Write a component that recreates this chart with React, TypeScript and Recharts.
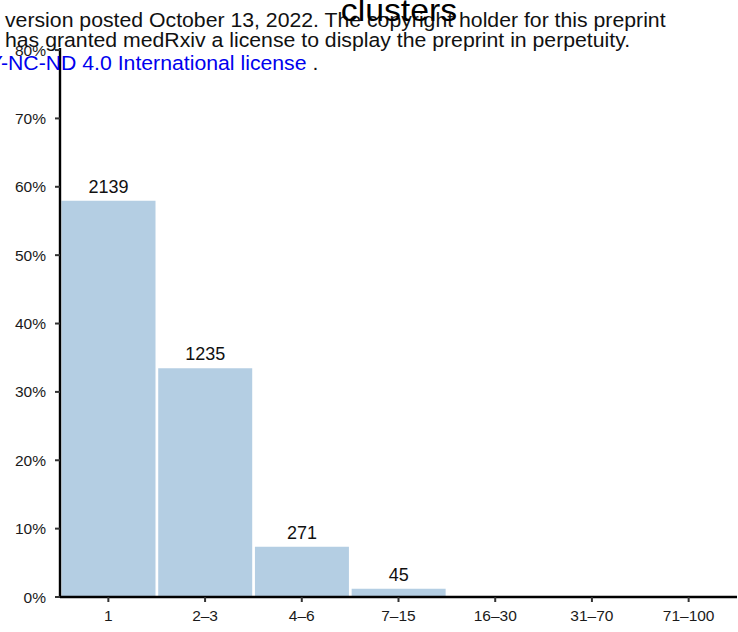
import React from "react";
import { BarChart, Bar, XAxis, YAxis, LabelList } from "recharts";

// cluster size bins and number of clusters in each
const clusterSizes = ["1", "2–3", "4–6", "7–15", "16–30", "31–70", "71–100"];
const clusterCounts = [2139, 1235, 271, 45, 0, 0, 0];
const yTicks = [0, 10, 20, 30, 40, 50, 60, 70, 80];

const total = clusterCounts.reduce((a, b) => a + b, 0);
const data = clusterSizes.map((size, i) => ({
  size,
  count: clusterCounts[i],
  share: (clusterCounts[i] / total) * 100,
}));

const font = "'Liberation Sans', Arial, Helvetica, sans-serif";
// the source figure is stretched a little horizontally
const sx = 1.09;

export default function App() {
  return (
    <div
      style={{
        position: "absolute",
        left: 0,
        top: 0,
        width: 738,
        height: 632,
        overflow: "hidden",
        background: "#fff",
        fontFamily: font,
      }}
    >
      <BarChart
        width={738}
        height={632}
        data={data}
        margin={{ top: 48, right: 1, bottom: 0, left: 0 }}
        barCategoryGap={1.5}
      >
        <XAxis
          dataKey="size"
          height={35}
          interval={0}
          axisLine={{ stroke: "#000", strokeWidth: 2.4 }}
          tickLine={{ stroke: "#333", strokeWidth: 2 }}
          tickSize={5}
          tickMargin={8}
          tick={{ fill: "#1a1a1a", fontSize: 15.5, fontFamily: font }}
        />
        <YAxis
          type="number"
          domain={[0, 80.3]}
          ticks={yTicks}
          tickFormatter={(v: number) => `${v}%`}
          width={60}
          axisLine={{ stroke: "#000", strokeWidth: 2.4 }}
          tickLine={{ stroke: "#333", strokeWidth: 2 }}
          tickSize={5}
          tickMargin={9}
          tick={{ fill: "#1a1a1a", fontSize: 15.5, fontFamily: font }}
        />
        <Bar dataKey="share" fill="#b4cee3" isAnimationActive={false}>
          <LabelList
            dataKey="count"
            position="top"
            offset={8}
            formatter={(v: number) => (v ? v : "")}
            style={{ fill: "#111", fontSize: 18, fontFamily: font }}
          />
        </Bar>
      </BarChart>
      <svg
        width={738}
        height={632}
        style={{ position: "absolute", left: 0, top: 0, pointerEvents: "none" }}
        fontFamily={font}
      >
        <g transform={`scale(${sx},1)`}>
          <text x={5 / sx} y={27} fontSize={19.5} fill="#111">
            version posted October 13, 2022. The copyright holder for this preprint
          </text>
          <text x={5 / sx} y={47} fontSize={19.5} fill="#111">
            has granted medRxiv a license to display the preprint in perpetuity.
          </text>
          <text x={-58} y={70} fontSize={19.5}>
            <tspan fill="#0000ee">CC-BY-NC-ND 4.0 International license</tspan>
            <tspan fill="#111"> .</tspan>
          </text>
          <text x={399 / sx} y={21} fontSize={31} textAnchor="middle" fill="#000">
            clusters
          </text>
        </g>
      </svg>
    </div>
  );
}
